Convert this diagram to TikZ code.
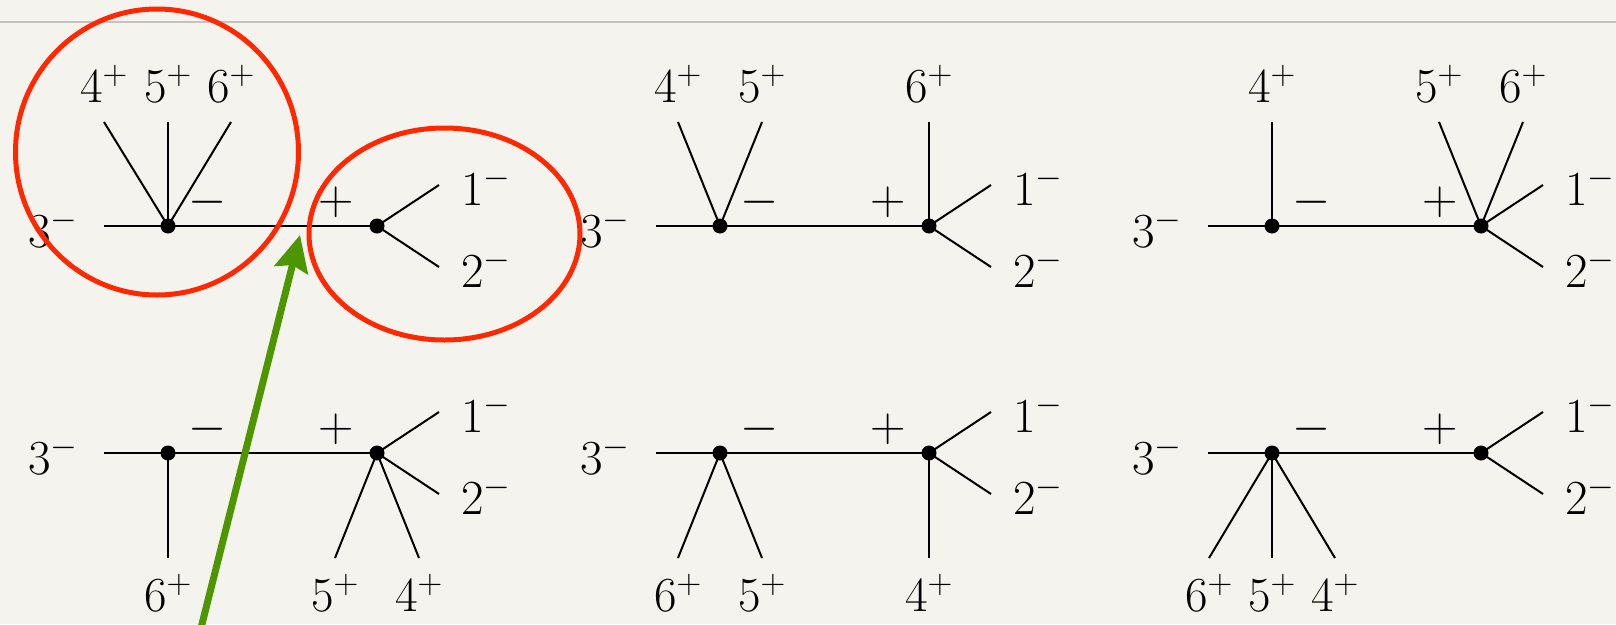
\RequirePackage{fix-cm}
\documentclass[tikz,border=0pt]{standalone}
\usetikzlibrary{arrows.meta}
\definecolor{bg}{RGB}{245,243,237}
\definecolor{hl}{RGB}{255,40,0}
\definecolor{arr}{RGB}{78,150,0}
\definecolor{rule}{RGB}{195,195,192}
\tikzset{
  leg/.style={line width=2pt,black},
  vtx/.style={circle,fill=black,inner sep=0pt,minimum size=15pt},
  lbl/.style={inner sep=0pt,font=\fontsize{49}{58}\selectfont},
  ring/.style={draw=hl,line width=5pt},
  pointer/.style={draw=arr,line width=7pt,-{Stealth[length=36pt,width=34pt,inset=5pt]}},
  topline/.style={draw=rule,line width=2pt},
}
% #1 name, #2 x of line start, #3 y of line
\newcommand\mydiag[3]{%
  \coordinate (#1s) at (#2,#3);
  \node[vtx] (#1a) at (#2+64,#3) {};
  \node[vtx] (#1b) at (#2+273,#3) {};
  \coordinate (#1p) at (#2+335,#3-41);
  \coordinate (#1q) at (#2+335,#3+41);
  \draw[leg] (#1s) -- (#1a.center) -- (#1b.center);
  \draw[leg] (#1b.center) -- (#1p);
  \draw[leg] (#1b.center) -- (#1q);
  \node[lbl,anchor=base east] (#1t) at (#2-26,#3+21) {$3^-$};
  \node[lbl,anchor=base west] (#1u) at (#2+357,#3-21) {$1^-$};
  \node[lbl,anchor=base west] (#1w) at (#2+357,#3+61) {$2^-$};
  \node[lbl] (#1m) at (#2+104,#3-24) {$-$};
  \node[lbl] (#1n) at (#2+232,#3-24) {$+$};
}
% #1 name, #2 vertex node, #3 x of end, #4 y of end, #5 label, #6 label anchor y
\newcommand\myleg[6]{%
  \coordinate (#1) at (#3,#4);
  \draw[leg] (#2.center) -- (#1);
  \node[lbl,anchor=base] (#1l) at (#3,#6) {$#5$};
}
\begin{document}
\begin{tikzpicture}[x=1pt,y=-1pt]
\useasboundingbox (0,0) rectangle (1616,624);
\fill[bg] (0,0) rectangle (1616,624);
\draw[topline] (0,22) -- (1616,22);

% row 1
\mydiag{d1}{104}{226}
\myleg{d1e4}{d1a}{104}{122}{4^+}{102}
\myleg{d1e5}{d1a}{168}{122}{5^+}{102}
\myleg{d1e6}{d1a}{231}{122}{6^+}{102}

\mydiag{d2}{656}{226}
\myleg{d2e4}{d2a}{678}{122}{4^+}{102}
\myleg{d2e5}{d2a}{762}{122}{5^+}{102}
\myleg{d2e6}{d2b}{929}{122}{6^+}{102}

\mydiag{d3}{1208}{226}
\myleg{d3e4}{d3a}{1272}{122}{4^+}{102}
\myleg{d3e5}{d3b}{1439}{122}{5^+}{102}
\myleg{d3e6}{d3b}{1523}{122}{6^+}{102}

% row 2
\mydiag{d4}{104}{453}
\myleg{d4e6}{d4a}{168}{558}{6^+}{611}
\myleg{d4e5}{d4b}{335}{558}{5^+}{611}
\myleg{d4e4}{d4b}{419}{558}{4^+}{611}

\mydiag{d5}{656}{453}
\myleg{d5e6}{d5a}{678}{558}{6^+}{611}
\myleg{d5e5}{d5a}{762}{558}{5^+}{611}
\myleg{d5e4}{d5b}{929}{558}{4^+}{611}

\mydiag{d6}{1208}{453}
\myleg{d6e6}{d6a}{1209}{558}{6^+}{611}
\myleg{d6e5}{d6a}{1272}{558}{5^+}{611}
\myleg{d6e4}{d6a}{1335}{558}{4^+}{611}

% highlights
\draw[ring] (157,152) ellipse [x radius=141.5, y radius=143];
\draw[ring] (444.5,234) ellipse [x radius=135.5, y radius=106];

\coordinate (arrtail) at (200,632);
\coordinate (arrtip) at (300,235);
\draw[pointer] (arrtail) -- (arrtip);
\end{tikzpicture}
\end{document}
